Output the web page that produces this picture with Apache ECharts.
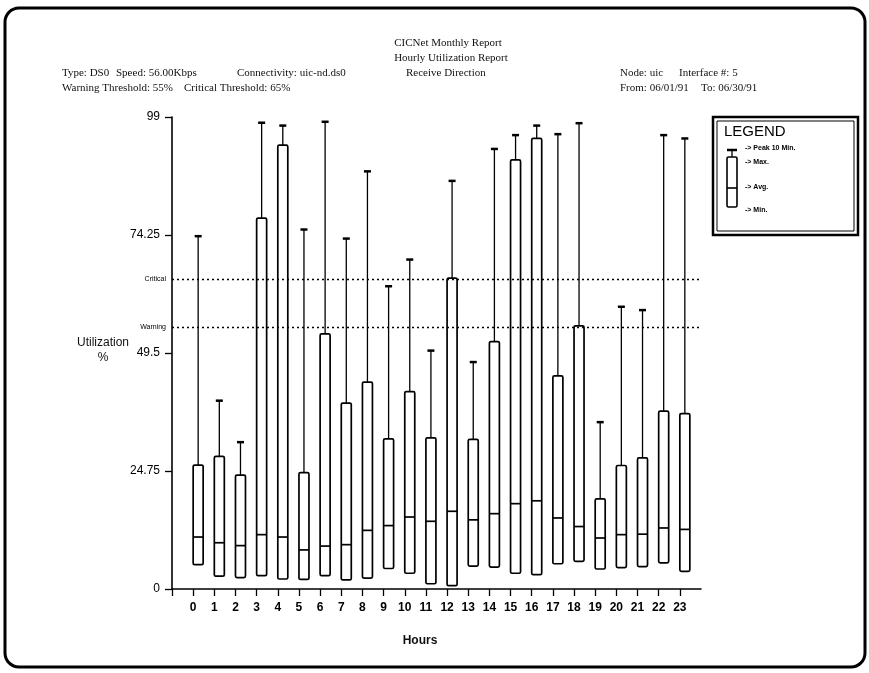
<!DOCTYPE html>
<html>
<head>
<meta charset="utf-8">
<script src="https://cdn.jsdelivr.net/npm/echarts@6/dist/echarts.min.js"></script>
<style>
html,body{margin:0;padding:0;background:#fff;}
#chart{width:869px;height:673px;}
</style>
</head>
<body>
<div id="chart"></div>
<script>
// ---- data ----
var hours = [0,1,2,3,4,5,6,7,8,9,10,11,12,13,14,15,16,17,18,19,20,21,22,23];
var minVals  = [5.1, 2.7, 2.4, 2.8, 2.1, 2.0, 2.8, 1.9, 2.3, 4.3, 3.3, 1.1, 0.7, 4.8, 4.6, 3.3, 3.0, 5.3, 5.8, 4.2, 4.5, 4.7, 5.5, 3.7];
var avgVals  = [10.9, 9.7, 9.1, 11.4, 10.9, 8.2, 9.0, 9.3, 12.3, 13.3, 15.1, 14.2, 16.3, 14.5, 15.8, 17.9, 18.5, 14.9, 13.1, 10.7, 11.4, 11.5, 12.8, 12.5];
var maxVals  = [26.0, 27.8, 23.9, 77.8, 93.1, 24.4, 53.5, 39.0, 43.4, 31.5, 41.4, 31.7, 65.2, 31.4, 51.9, 90.0, 94.5, 44.7, 55.2, 18.9, 25.9, 27.5, 37.3, 36.8];
var peakVals = [74.0, 39.5, 30.8, 97.8, 97.2, 75.4, 98.0, 73.5, 87.6, 63.5, 69.1, 50.0, 85.6, 47.6, 92.3, 95.2, 97.2, 95.4, 97.7, 35.0, 59.2, 58.5, 95.2, 94.5];
var yTicks = [0, 24.75, 49.5, 74.25, 99];
var warningThreshold = 55;
var criticalThreshold = 65;

var titleLines = ['CICNet Monthly Report', 'Hourly Utilization Report'];
var infoRow1 = ['Type: DS0', 'Speed: 56.00Kbps', 'Connectivity: uic-nd.ds0', 'Receive Direction'];
var infoRow2 = ['Warning Threshold: 55%', 'Critical Threshold: 65%'];
var nodeRow1 = ['Node: uic', 'Interface #: 5'];
var nodeRow2 = ['From: 06/01/91', 'To: 06/30/91'];
var legendLabels = ['-> Peak 10 Min.', '-> Max.', '-> Avg.', '-> Min.'];

// ---- build ----
var boxData = hours.map(function (h, i) {
  return [h, minVals[i], avgVals[i], maxVals[i], peakVals[i]];
});

var serif = '"Liberation Serif", "DejaVu Serif", serif';
var sans = '"Liberation Sans", Arial, sans-serif';

function txt(x, y, s, font, extra) {
  var st = { text: s, font: font, fill: '#111', textVerticalAlign: 'middle' };
  if (extra) for (var k in extra) st[k] = extra[k];
  return { type: 'text', x: x, y: y, style: st, z: 10 };
}

var chart = echarts.init(document.getElementById('chart'), null, { renderer: 'canvas' });

var graphics = [
  // outer rounded frame
  { type: 'rect', shape: { x: 5, y: 8, width: 860, height: 659, r: 14 },
    style: { fill: 'none', stroke: '#000', lineWidth: 3 }, z: 1 },
  txt(448, 43, titleLines[0], '11px ' + serif, { textAlign: 'center' }),
  txt(451, 58, titleLines[1], '11px ' + serif, { textAlign: 'center' }),
  txt(62, 73, infoRow1[0], '11px ' + serif),
  txt(116, 73, infoRow1[1], '11px ' + serif),
  txt(237, 73, infoRow1[2], '11px ' + serif),
  txt(406, 73, infoRow1[3], '11px ' + serif),
  txt(62, 88, infoRow2[0], '11px ' + serif),
  txt(184, 88, infoRow2[1], '11px ' + serif),
  txt(620, 73, nodeRow1[0], '11px ' + serif),
  txt(679, 73, nodeRow1[1], '11px ' + serif),
  txt(620, 88, nodeRow2[0], '11px ' + serif),
  txt(701, 88, nodeRow2[1], '11px ' + serif),
  // axis titles
  txt(103, 343, 'Utilization', '12px ' + sans, { textAlign: 'center' }),
  txt(103, 358, '%', '12px ' + sans, { textAlign: 'center' }),
  txt(420, 641, 'Hours', 'bold 12px ' + sans, { textAlign: 'center' }),
  // legend
  {
    type: 'group', x: 713, y: 117, z: 10,
    children: [
      { type: 'rect', shape: { x: 0, y: 0, width: 145, height: 118 }, style: { fill: '#fff', stroke: '#000', lineWidth: 2.5 } },
      { type: 'rect', shape: { x: 4, y: 4, width: 137, height: 110 }, style: { fill: 'none', stroke: '#000', lineWidth: 1 } },
      { type: 'text', x: 11, y: 15, style: { text: 'LEGEND', font: '15px ' + sans, fill: '#000', textVerticalAlign: 'middle' } },
      { type: 'line', shape: { x1: 14, y1: 33, x2: 24, y2: 33 }, style: { stroke: '#000', lineWidth: 2.5 } },
      { type: 'line', shape: { x1: 19, y1: 33, x2: 19, y2: 40 }, style: { stroke: '#000', lineWidth: 1.3 } },
      { type: 'rect', shape: { x: 14, y: 40, width: 10, height: 50, r: 1.5 }, style: { fill: '#fff', stroke: '#000', lineWidth: 1.6 } },
      { type: 'line', shape: { x1: 14, y1: 71, x2: 24, y2: 71 }, style: { stroke: '#000', lineWidth: 1.6 } },
      { type: 'text', x: 32, y: 31, style: { text: legendLabels[0], font: 'bold 7px ' + sans, fill: '#000', textVerticalAlign: 'middle' } },
      { type: 'text', x: 32, y: 45, style: { text: legendLabels[1], font: 'bold 7px ' + sans, fill: '#000', textVerticalAlign: 'middle' } },
      { type: 'text', x: 32, y: 70, style: { text: legendLabels[2], font: 'bold 7px ' + sans, fill: '#000', textVerticalAlign: 'middle' } },
      { type: 'text', x: 32, y: 93, style: { text: legendLabels[3], font: 'bold 7px ' + sans, fill: '#000', textVerticalAlign: 'middle' } }
    ]
  }
];

var option = {
  backgroundColor: '#fff',
  animation: false,
  grid: { left: 172, right: 168, top: 117, bottom: 84, containLabel: false },
  xAxis: {
    type: 'value', min: -1, max: 24, interval: 1,
    axisLine: { show: true, onZero: false, lineStyle: { color: '#000', width: 1.6 } },
    axisTick: { show: true, inside: false, length: 7, lineStyle: { color: '#000', width: 1.3 },
      customValues: [-1].concat(hours) },
    axisLabel: { show: true, color: '#000', fontFamily: sans, fontWeight: 'bold', fontSize: 12, margin: 13,
      customValues: hours,
      formatter: function (v) { return (v >= 0 && v <= 23) ? String(v) : ''; } },
    splitLine: { show: false }
  },
  yAxis: {
    type: 'value', min: 0, max: 99, interval: 24.75,
    axisLine: { show: true, onZero: false, lineStyle: { color: '#000', width: 1.6 } },
    axisTick: { show: true, inside: false, length: 7, lineStyle: { color: '#000', width: 1.3 } },
    axisLabel: { show: true, color: '#000', fontFamily: sans, fontSize: 12, margin: 12 },
    splitLine: { show: false }
  },
  graphic: graphics,
  series: [{
    type: 'custom',
    data: boxData,
    encode: { x: 0, y: [1, 2, 3, 4] },
    clip: false,
    renderItem: function (params, api) {
      var h = api.value(0);
      var pMin = api.coord([h, api.value(1)]);
      var pAvg = api.coord([h, api.value(2)]);
      var pMax = api.coord([h, api.value(3)]);
      var pPeak = api.coord([h, api.value(4)]);
      var bw = 10;
      var cx = pMin[0] + 5;
      return {
        type: 'group',
        children: [
          { type: 'line', shape: { x1: cx, y1: pMax[1], x2: cx, y2: pPeak[1] },
            style: { stroke: '#000', lineWidth: 1.3 } },
          { type: 'line', shape: { x1: cx - 3.5, y1: pPeak[1], x2: cx + 3.5, y2: pPeak[1] },
            style: { stroke: '#000', lineWidth: 2.5 } },
          { type: 'rect', shape: { x: cx - bw / 2, y: pMax[1], width: bw, height: pMin[1] - pMax[1], r: 1.5 },
            style: { fill: '#fff', stroke: '#000', lineWidth: 1.7 } },
          { type: 'line', shape: { x1: cx - bw / 2, y1: pAvg[1], x2: cx + bw / 2, y2: pAvg[1] },
            style: { stroke: '#000', lineWidth: 1.7 } }
        ]
      };
    },
    z: 3
  }, {
    type: 'line',
    data: [],
    silent: true,
    markLine: {
      silent: true,
      symbol: ['none', 'none'],
      lineStyle: { color: '#000', type: [2, 3], width: 1.3 },
      label: { show: true, position: 'start', color: '#000', fontFamily: sans, fontSize: 7, distance: 6,
        formatter: function (p) { return p.name; } },
      data: [
        { name: 'Critical', yAxis: criticalThreshold },
        { name: 'Warning', yAxis: warningThreshold }
      ]
    },
    z: 2
  }]
};

chart.setOption(option);
</script>
</body>
</html>
